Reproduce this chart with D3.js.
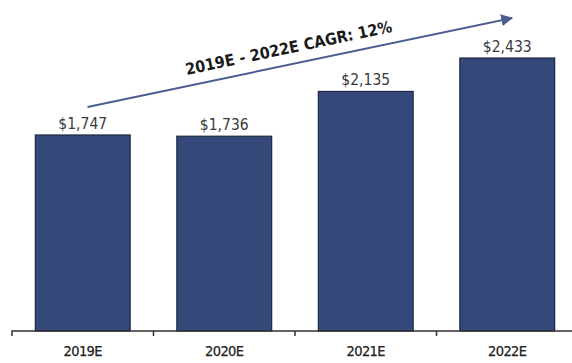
<!DOCTYPE html>
<html>
<head>
<meta charset="utf-8">
<script src="https://cdn.jsdelivr.net/npm/d3@7"></script>
<style>
  html, body { margin: 0; padding: 0; background: #ffffff; }
  svg { display: block; }
  text { font-family: "DejaVu Sans Condensed", "DejaVu Sans", sans-serif; font-stretch: condensed; }
</style>
</head>
<body>
<svg id="chart" width="572" height="363"></svg>
<script>
// Revenue forecast by year (USD)
const years = ["2019E", "2020E", "2021E", "2022E"];
const revenue = [1747, 1736, 2135, 2433];
const cagrLabel = "2019E - 2022E CAGR: 12%";

const width = 572, height = 363;
const baseline = 331;
const fontStack = "'DejaVu Sans Condensed', 'DejaVu Sans', sans-serif";

const svg = d3.select("#chart");

const x = d3.scaleBand()
  .domain(years)
  .range([12, 578])
  .paddingInner(0.33)
  .paddingOuter(0.165);

const y = d3.scaleLinear()
  .domain([0, 2500])
  .range([baseline, 50.5]);

const fmt = v => "$" + d3.format(",")(v);

// Bars
svg.append("g").selectAll("rect")
  .data(years)
  .join("rect")
  .attr("x", d => x(d))
  .attr("y", (d, i) => y(revenue[i]))
  .attr("width", x.bandwidth())
  .attr("height", (d, i) => baseline - y(revenue[i]))
  .attr("fill", "#34487a")
  .attr("stroke", "#1e2742")
  .attr("stroke-width", 1.2);

// Value labels
svg.append("g").selectAll("text")
  .data(years)
  .join("text")
  .attr("x", d => x(d) + x.bandwidth() / 2)
  .attr("y", (d, i) => y(revenue[i]) - 6)
  .attr("text-anchor", "middle")
  .attr("font-size", 15.5)
  .attr("fill", "#3a3a3a")
  .text((d, i) => fmt(revenue[i]));

// Category axis
const axis = svg.append("g")
  .attr("transform", `translate(0,${baseline})`)
  .call(d3.axisBottom(x).tickSize(0).tickPadding(15));
axis.select(".domain")
  .attr("d", `M${x.range()[0]},5V0H${x.range()[1]}`)
  .attr("stroke", "#333")
  .attr("stroke-width", 1.5)
  .attr("fill", "none");
axis.selectAll(".tick text")
  .attr("font-family", fontStack)
  .attr("font-size", 14.5)
  .attr("fill", "#222")
  .attr("stroke", "#222")
  .attr("stroke-width", 0.25)
  .attr("letter-spacing", -0.6);

// Band boundary ticks
const half = x.step() * x.paddingInner() / 2;
axis.selectAll("line.sep")
  .data(years.slice(1))
  .join("line")
  .attr("class", "sep")
  .attr("x1", d => x(d) - half)
  .attr("x2", d => x(d) - half)
  .attr("y1", 0)
  .attr("y2", 5)
  .attr("stroke", "#333")
  .attr("stroke-width", 1.5);

// Growth arrow from the first year to the last
const first = years[0], last = years[years.length - 1];
const x0 = x(first) + x.bandwidth() * 0.55;
const y0 = y(revenue[0]) - 28;
const x1 = x(last) + x.bandwidth() * 0.55;
const y1 = y(revenue[revenue.length - 1]) - 40;

const defs = svg.append("defs");
defs.append("marker")
  .attr("id", "head")
  .attr("viewBox", "0 0 10 10")
  .attr("refX", 9)
  .attr("refY", 5)
  .attr("markerWidth", 6)
  .attr("markerHeight", 6)
  .attr("orient", "auto")
  .append("path")
  .attr("d", "M0,0L10,5L0,10Z")
  .attr("fill", "#4a5d92");

svg.append("line")
  .attr("x1", x0).attr("y1", y0)
  .attr("x2", x1).attr("y2", y1)
  .attr("stroke", "#4a5d92")
  .attr("stroke-width", 2)
  .attr("marker-end", "url(#head)");

// CAGR annotation along the arrow
const angle = Math.atan2(y1 - y0, x1 - x0) * 180 / Math.PI;
const mx = 292;
const my = y0 + (y1 - y0) * (mx - x0) / (x1 - x0);
svg.append("text")
  .attr("transform", `translate(${mx},${my}) rotate(${angle}) translate(0,-11)`)
  .attr("text-anchor", "middle")
  .attr("font-size", 16)
  .attr("font-weight", "bold")
  .attr("fill", "#1a1a1a")
  .text(cagrLabel);
</script>
</body>
</html>
